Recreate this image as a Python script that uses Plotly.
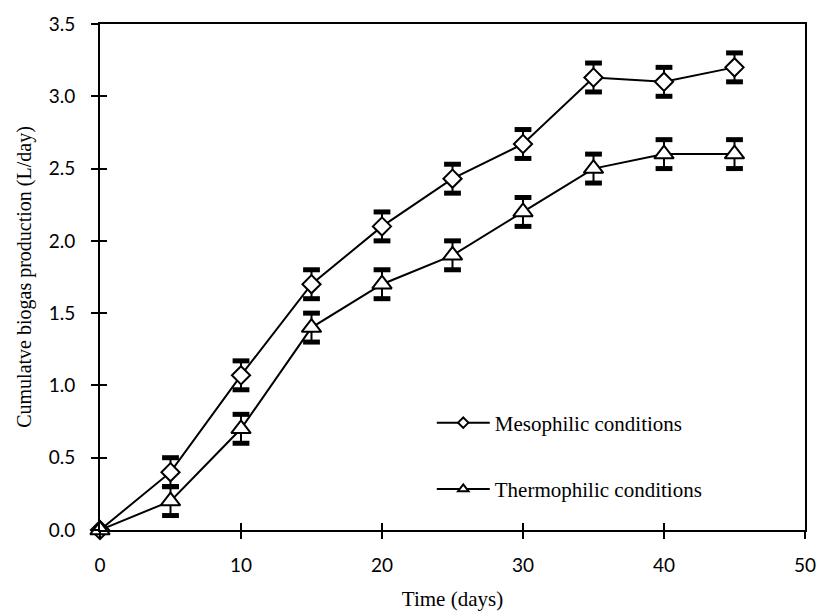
import plotly.graph_objects as go

days = [0, 5, 10, 15, 20, 25, 30, 35, 40, 45]
meso = [0.0, 0.40, 1.07, 1.70, 2.10, 2.43, 2.67, 3.13, 3.10, 3.20]
meso_err = [0.0, 0.10, 0.10, 0.10, 0.10, 0.10, 0.10, 0.10, 0.10, 0.10]
thermo = [0.0, 0.20, 0.70, 1.40, 1.70, 1.90, 2.20, 2.50, 2.60, 2.60]
thermo_err = [0.0, 0.10, 0.10, 0.10, 0.10, 0.10, 0.10, 0.10, 0.10, 0.10]
names = ["Mesophilic conditions", "Thermophilic conditions"]
x_ticks = [0, 10, 20, 30, 40, 50]
y_ticks = [0.0, 0.5, 1.0, 1.5, 2.0, 2.5, 3.0, 3.5]

fig = go.Figure()

series = [(meso, meso_err, "diamond", 14, 8), (thermo, thermo_err, "triangle-up", 17, 9)]
for i, (vals, errs, sym, msize, lsize) in enumerate(series):
    fig.add_trace(go.Scatter(
        x=days, y=vals, mode="lines+markers", showlegend=False, cliponaxis=False,
        line=dict(color="black", width=2),
        marker=dict(symbol=sym, size=msize, color="white", line=dict(color="black", width=2)),
        error_y=dict(type="data", array=errs, visible=True, color="black", thickness=2, width=0),
    ))
    cx, cy = [], []
    for d, v, e in zip(days, vals, errs):
        if e > 0:
            cx += [d, d]
            cy += [v + e, v - e]
    fig.add_trace(go.Scatter(
        x=cx, y=cy, mode="markers", showlegend=False, hoverinfo="skip", cliponaxis=False,
        marker=dict(symbol="line-ew", size=12, color="black", line=dict(color="black", width=5)),
    ))

for i, (vals, errs, sym, msize, lsize) in enumerate(series):
    fig.add_trace(go.Scatter(
        x=[None], y=[None], mode="lines+markers", name=names[i], legendgroup=f"g{i}",
        line=dict(color="black", width=2),
        marker=dict(symbol=sym, size=lsize, color="white", line=dict(color="black", width=2)),
    ))

tick_font = dict(family="Lato, Open Sans, sans-serif", size=19, color="black")
serif = "Liberation Serif, Times New Roman, serif"

fig.update_layout(
    width=823, height=614,
    margin=dict(l=100, r=18, t=15, b=84),
    paper_bgcolor="white", plot_bgcolor="white",
    showlegend=True,
    legend=dict(
        x=0.4706, y=0.252, xanchor="left", yanchor="top",
        bgcolor="rgba(0,0,0,0)", borderwidth=0,
        font=dict(family=serif, size=21, color="black"),
        tracegroupgap=36, itemwidth=53,
    ),
    xaxis=dict(
        range=[0, 50], tickvals=x_ticks, ticktext=[str(t) for t in x_ticks],
        showgrid=False, zeroline=False, automargin=False,
        showline=True, linecolor="black", linewidth=2, mirror=True,
        ticks="outside", ticklen=7, tickwidth=2, tickcolor="black",
        tickfont=tick_font, ticklabelstandoff=10,
        title=dict(text="Time (days)", font=dict(family=serif, size=21, color="black"), standoff=17),
    ),
    yaxis=dict(
        range=[0, 3.5], tickvals=y_ticks, ticktext=[f"{t:.1f}" for t in y_ticks],
        showgrid=False, zeroline=False,
        showline=True, linecolor="black", linewidth=2, mirror=True,
        ticks="outside", ticklen=7, tickwidth=2, tickcolor="black",
        tickfont=tick_font, ticklabelstandoff=12,
        title=dict(text="Cumulatve biogas production (L/day)", font=dict(family=serif, size=20, color="black"), standoff=12),
    ),
    xaxis2=dict(
        range=[0, 50], tickvals=x_ticks, overlaying="x", side="bottom",
        showticklabels=False, showgrid=False, zeroline=False, showline=False,
        ticks="inside", ticklen=7, tickwidth=2, tickcolor="black",
    ),
    yaxis2=dict(
        range=[0, 3.5], tickvals=y_ticks, overlaying="y", side="left",
        showticklabels=False, showgrid=False, zeroline=False, showline=False,
        ticks="inside", ticklen=7, tickwidth=2, tickcolor="black",
    ),
)
fig.add_trace(go.Scatter(x=[None], y=[None], xaxis="x2", yaxis="y2", showlegend=False, hoverinfo="skip"))

fig.write_html("out.html")
